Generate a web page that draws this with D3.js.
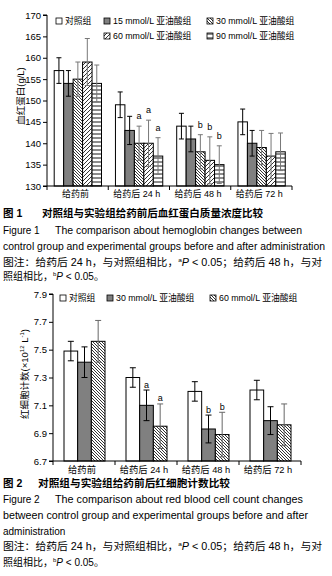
<!DOCTYPE html>
<html><head><meta charset="utf-8">
<script src="https://cdn.jsdelivr.net/npm/d3@7"></script>
<style>
body{margin:0;background:#fff}
svg{display:block}
text{font-family:"Liberation Sans","Noto Sans CJK SC",sans-serif;fill:#000}
</style>
</head><body>
<svg id="c" width="332" height="576"></svg>
<script>
// ---------- data ----------
const groups = ["给药前", "给药后 24 h", "给药后 48 h", "给药后 72 h"];

const hbSeries = ["对照组", "15 mmol/L 亚油酸组", "30 mmol/L 亚油酸组", "60 mmol/L 亚油酸组", "90 mmol/L 亚油酸组"];
const hbMean = [
  [157, 154, 155, 159, 154],
  [149, 143, 140, 140, 137],
  [144, 141, 138, 136, 135],
  [145, 140, 139, 137, 138]
];
const hbErr = [
  [3, 3, 4, 5.5, 4.3],
  [3, 3.3, 4, 5.4, 4.3],
  [3, 3, 4, 5.5, 4.4],
  [3, 3, 4, 5.3, 4.4]
];
const hbSig = [
  ["", "", "", "", ""],
  ["", "", "a", "a", "a"],
  ["", "", "b", "b", "b"],
  ["", "", "", "", ""]
];
const hbTicks = [130, 135, 140, 145, 150, 155, 160, 165, 170];

const rbcSeries = ["对照组", "30 mmol/L 亚油酸组", "60 mmol/L 亚油酸组"];
const rbcMean = [
  [7.49, 7.41, 7.56],
  [7.30, 7.10, 6.95],
  [7.20, 6.93, 6.89],
  [7.21, 6.99, 6.96]
];
const rbcErr = [
  [0.07, 0.11, 0.15],
  [0.07, 0.11, 0.16],
  [0.07, 0.10, 0.16],
  [0.07, 0.10, 0.15]
];
const rbcSig = [
  ["", "", ""],
  ["", "a", "a"],
  ["", "b", "b"],
  ["", "", ""]
];
const rbcTicks = [6.7, 6.9, 7.1, 7.3, 7.5, 7.7, 7.9];

// ---------- drawing ----------
const svg = d3.select("#c");
svg.append("rect").attr("width", 332).attr("height", 576).attr("fill", "#fff");
const defs = svg.append("defs");

function pat(id, w, h, d, sw) {
  const p = defs.append("pattern").attr("id", id).attr("patternUnits", "userSpaceOnUse")
    .attr("width", w).attr("height", h);
  p.append("rect").attr("width", w).attr("height", h).attr("fill", "#fff");
  p.append("path").attr("d", d).attr("stroke", "#000").attr("stroke-width", sw).attr("fill", "none");
}
pat("back", 3, 3, "M-1,-1L4,4M-1,2L1,4M2,-1L4,1", 0.8);
pat("fwd", 4, 4, "M-1,5L5,-1M-1,1L1,-1M3,5L5,3", 0.8);
pat("hor", 4, 4, "M0,2L4,2", 0.9);

const hbFill = ["#fff", "#808080", "url(#back)", "url(#fwd)", "url(#hor)"];
const hbErrCol = ["#000", "#000", "#777", "#777", "#777"];
const rbcFill = ["#fff", "#808080", "url(#back)"];
const rbcErrCol = ["#000", "#000", "#666"];

function chart(o) {
  const g = svg.append("g");
  const y = d3.scaleLinear().domain(o.domain).range(o.yr);
  const x0 = d3.scaleBand().domain(groups).range(o.xr).padding(0);
  const x1 = d3.scaleBand().domain(o.series).range(o.inner).padding(0);

  // bars
  groups.forEach((gr, gi) => {
    o.series.forEach((s, si) => {
      const v = o.mean[gi][si], e = o.err[gi][si];
      const bx = x0(gr) + x1(s), bw = x1.bandwidth();
      g.append("rect").attr("x", bx).attr("y", y(v)).attr("width", bw)
        .attr("height", y(o.domain[0]) - y(v)).attr("fill", o.fill[si])
        .attr("stroke", "#000").attr("stroke-width", 1);
      const cx = bx + bw / 2;
      const lo = Math.max(o.domain[0], v - e);
      const col = o.errCol[si];
      g.append("line").attr("x1", cx).attr("x2", cx).attr("y1", y(v + e)).attr("y2", y(lo))
        .attr("stroke", col).attr("stroke-width", 1);
      g.append("line").attr("x1", cx - o.cap).attr("x2", cx + o.cap).attr("y1", y(v + e)).attr("y2", y(v + e))
        .attr("stroke", col).attr("stroke-width", 1);
      if (v - e > o.domain[0])
        g.append("line").attr("x1", cx - o.cap).attr("x2", cx + o.cap).attr("y1", y(v - e)).attr("y2", y(v - e))
          .attr("stroke", col).attr("stroke-width", 1);
      const sg = o.sig[gi][si];
      if (sg) g.append("text").attr("x", cx).attr("y", y(v + e) - o.sigGap)
        .attr("text-anchor", "middle").attr("font-size", o.sigFs).text(sg);
    });
  });

  // y axis
  const ya = g.append("g").attr("transform", `translate(${o.xr[0]},0)`)
    .call(d3.axisLeft(y).tickValues(o.ticks).tickSize(4).tickPadding(2)
      .tickFormat(o.fmt));
  ya.select(".domain").attr("stroke", "#000").attr("d", `M-4,${o.yr[1]}H0V${o.yr[0]}H-4`);
  ya.selectAll("text").attr("font-size", o.tickFs).attr("font-family", '"Liberation Sans",sans-serif').attr("fill", "#000");
  ya.selectAll("line").attr("stroke", "#000");

  // x axis
  const base = y(o.domain[0]);
  g.append("line").attr("x1", o.xr[0]).attr("x2", o.xr[1]).attr("y1", base).attr("y2", base).attr("stroke", "#000");
  const bounds = groups.map(gr => x0(gr)).concat([x0(groups[groups.length - 1]) + x0.bandwidth()]);
  bounds.forEach(bx => g.append("line").attr("x1", bx).attr("x2", bx).attr("y1", base).attr("y2", base + 4).attr("stroke", "#000"));
  groups.forEach(gr => g.append("text").attr("x", x0(gr) + x0.bandwidth() / 2 - 2).attr("y", o.xlabY)
    .attr("text-anchor", "middle").attr("font-size", o.xFs).text(gr));

  // legend
  o.legend.forEach((L, i) => {
    g.append("rect").attr("x", L[0]).attr("y", L[1] - 3).attr("width", 6).attr("height", 6)
      .attr("fill", o.fill[i]).attr("stroke", "#000").attr("stroke-width", 0.8);
    g.append("text").attr("x", L[0] + 9).attr("y", L[1] + 3.3).attr("font-size", o.legFs).text(o.series[i]);
  });
  return g;
}

chart({
  domain: [130, 170], yr: [186, 15], xr: [47, 292], inner: [7.2, 54.5],
  series: hbSeries, mean: hbMean, err: hbErr, sig: hbSig, fill: hbFill, errCol: hbErrCol,
  ticks: hbTicks, fmt: d3.format("d"), cap: 2.5, sigGap: 7, sigFs: 9, tickFs: 9.5, xFs: 9, xlabY: 196.5,
  legFs: 8.8,
  legend: [[56, 21], [104, 21], [207, 21], [104, 36], [207, 36]]
});

chart({
  domain: [6.7, 7.9], yr: [461, 294], xr: [53, 301], inner: [11, 52],
  series: rbcSeries, mean: rbcMean, err: rbcErr, sig: rbcSig, fill: rbcFill, errCol: rbcErrCol,
  ticks: rbcTicks, fmt: d3.format(".1f"), cap: 3, sigGap: 2.5, sigFs: 9, tickFs: 9.5, xFs: 9.3, xlabY: 472.5,
  legFs: 8.8,
  legend: [[60, 298], [107, 298], [210, 298]]
});

// y axis titles
svg.append("text").attr("transform", "translate(24,96) rotate(-90)").attr("text-anchor", "middle")
  .attr("font-size", 9.5).text("血红蛋白(g/L)");
const yl2 = svg.append("text").attr("transform", "translate(28,374) rotate(-90)").attr("text-anchor", "middle")
  .attr("font-size", 9.5);
yl2.append("tspan").text("红细胞计数(×10");
yl2.append("tspan").attr("font-size", 6).attr("dy", -4).text("12");
yl2.append("tspan").attr("dy", 4).text(" L");
yl2.append("tspan").attr("font-size", 6).attr("dy", -4).text("-1");
yl2.append("tspan").attr("dy", 4).text(")");

// captions
function t(x, y, s, fs, opts = {}) {
  const e = svg.append("text").attr("x", x).attr("y", y).attr("font-size", fs).text(s);
  if (opts.bold) e.attr("font-weight", "bold");
  if (opts.len) e.attr("textLength", opts.len).attr("lengthAdjust", "spacingAndGlyphs");
  return e;
}
function note(y, len1, y2) {
  const e = svg.append("text").attr("x", 3).attr("y", y).attr("font-size", 10)
    .attr("textLength", len1).attr("lengthAdjust", "spacingAndGlyphs");
  e.append("tspan").text("图注：给药后 24 h，与对照组相比，");
  e.append("tspan").attr("font-size", 6).attr("dy", -4).text("a");
  e.append("tspan").attr("dy", 4).attr("font-style", "italic").text("P");
  e.append("tspan").text(" < 0.05；给药后 48 h，与对");
  const f = svg.append("text").attr("x", 3).attr("y", y2).attr("font-size", 10);
  f.append("tspan").text("照组相比，");
  f.append("tspan").attr("font-size", 6).attr("dy", -4).text("b");
  f.append("tspan").attr("dy", 4).attr("font-style", "italic").text("P");
  f.append("tspan").text(" < 0.05。");
}

t(3, 216.5, "图 1", 10.5, {bold: true});
t(42, 216.5, "对照组与实验组给药前后血红蛋白质量浓度比较", 10.5, {bold: true, len: 221});
t(3, 234, "Figure 1", 10);
t(55, 234, "The comparison about hemoglobin changes between", 10, {len: 247});
t(3, 249.5, "control group and experimental groups before and after administration", 10, {len: 322});
note(266, 319, 280);

t(3, 487, "图 2", 10.5, {bold: true});
t(38, 487, "对照组与实验组给药前后红细胞计数比较", 10.5, {bold: true, len: 192});
t(3, 503, "Figure 2", 10);
t(55, 503, "The comparison about red blood cell count changes", 10, {len: 248});
t(3, 518.5, "between control group and experimental groups before and after", 10, {len: 305});
t(3, 534.5, "administration", 10);
note(550, 319, 566);
</script>
</body></html>
